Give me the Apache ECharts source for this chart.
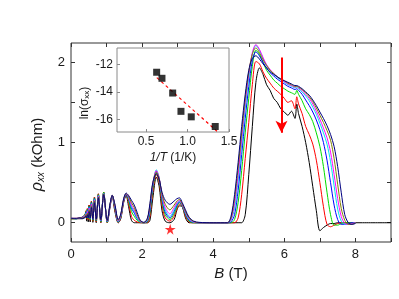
<!DOCTYPE html>
<html><head><meta charset="utf-8">
<script src="https://cdn.jsdelivr.net/npm/echarts@6/dist/echarts.min.js"></script>
<style>html,body{margin:0;padding:0;background:#fff}#c{width:399px;height:299px}</style>
</head><body><div id="c"></div>
<script>
// Magnetic field (T), shared grid for all curves
const fieldB = [
 0, 0.15, 0.25, 0.32, 0.37, 0.40, 0.42, 0.44, 0.46, 0.485, 0.51, 0.54, 0.575, 0.615, 0.66, 0.71, 0.77, 0.84, 0.92, 1.02, 1.10, 1.16, 1.23, 1.33,
 1.40, 1.48, 1.55, 1.62, 1.70, 1.78, 1.86, 1.95, 2.05, 2.15, 2.22, 2.30, 2.40, 2.48, 2.56, 2.65, 2.78, 2.90, 2.98, 3.05, 3.13, 3.22, 3.32, 3.45, 3.60, 4.00, 4.40,
 4.50, 4.60, 4.70, 4.80, 4.90, 5.00, 5.10, 5.20, 5.30, 5.40, 5.50, 5.60, 5.70, 5.80, 5.90, 6.00, 6.10, 6.20, 6.30, 6.35, 6.40, 6.50,
 6.60, 6.70, 6.80, 6.90, 7.00, 7.10, 7.20, 7.30, 7.40, 7.50, 7.60, 7.70, 7.80, 7.90, 8.00, 8.20, 9.00
];
// rho_xx (kOhm) for each temperature curve
const rhoBlack = [
 .05,.05,.05,.05,.06,.07,.13,.02,.17,.01,.22,.01,.27,.005,.32,0,.36,0,.38,0,.2,.34,.15,0,
 .05,.25,.34,.2,.03,0,0,0,0,0,.03,.3,.57,.45,.15,.02,0,.04,.16,.21,.2,.06,0,0,0,0,0,
 0,0,0,0,.1,.6,1.2,1.75,1.93,1.85,1.72,1.65,1.55,1.5,1.42,1.38,1.34,1.39,1.3,1.48,1.36,1.2,
 1.0,.75,.45,.15,-.1,-.06,-.03,-.01,-.01,0,0,0,0,0,0,0,0
];
const rhoRed = [
 .05,.05,.06,.07,.09,.11,.15,.05,.18,.04,.22,.03,.27,.02,.32,.01,.36,.005,.38,0,.21,.34,.17,0,
 .06,.26,.35,.25,.08,.03,.01,0,0,0,.08,.38,.6,.5,.22,.06,.02,.08,.18,.23,.2,.08,.01,0,0,0,0,
 0,0,.06,.35,.8,1.25,1.72,2.01,1.98,1.88,1.8,1.74,1.68,1.64,1.6,1.55,1.5,1.52,1.42,1.57,1.48,1.36,
 1.2,1.1,.98,.78,.5,.2,-.02,-.05,-.03,-.01,0,0,0,0,0,null,null
];
const rhoGreen = [
 .05,.05,.06,.07,.09,.11,.14,.06,.17,.05,.21,.04,.26,.03,.31,.02,.35,.01,.38,.005,.22,.34,.19,.005,
 .07,.27,.35,.28,.14,.08,.03,.005,0,.01,.12,.42,.62,.53,.27,.1,.04,.11,.2,.25,.2,.1,.02,0,0,0,0,
 0,.04,.25,.65,1.12,1.55,1.95,2.15,2.1,2.0,1.9,1.84,1.78,1.74,1.7,1.67,1.64,1.62,1.6,1.65,1.6,1.52,
 1.42,1.35,1.26,1.12,.95,.7,.38,.1,-.03,-.03,-.01,0,0,0,0,null,null
];
const rhoBlue = [
 .055,.05,.06,.07,.085,.10,.13,.07,.16,.06,.20,.05,.25,.04,.30,.03,.34,.02,.37,.01,.22,.34,.20,.01,
 .08,.27,.35,.3,.18,.12,.05,.01,0,.02,.15,.45,.64,.55,.3,.13,.06,.14,.22,.26,.21,.11,.03,.005,0,0,0,
 .01,.1,.4,.85,1.3,1.7,2.02,2.13,2.08,2.0,1.93,1.87,1.83,1.79,1.76,1.73,1.7,1.68,1.66,1.67,1.65,1.6,
 1.53,1.46,1.38,1.28,1.16,1.0,.78,.5,.22,.04,-.02,-.02,-.01,0,0,null,null
];
const rhoCyan = [
 .055,.05,.06,.065,.08,.095,.12,.075,.15,.065,.19,.055,.24,.045,.29,.035,.34,.025,.37,.015,.23,.34,.21,.015,
 .08,.28,.36,.31,.2,.14,.06,.01,0,.03,.18,.47,.66,.56,.32,.16,.08,.16,.24,.27,.22,.12,.04,.005,0,0,0,
 .03,.18,.52,.97,1.42,1.8,2.1,2.21,2.15,2.05,1.96,1.9,1.85,1.81,1.78,1.75,1.72,1.7,1.68,1.69,1.67,1.63,
 1.58,1.52,1.44,1.35,1.24,1.12,.98,.76,.46,.17,.02,-.02,-.02,-.01,0,null,null
];
const rhoMagenta = [
 .055,.055,.06,.065,.08,.09,.11,.075,.14,.07,.18,.06,.23,.05,.28,.04,.33,.03,.36,.02,.23,.34,.22,.02,
 .09,.28,.36,.32,.22,.16,.08,.015,0,.04,.2,.48,.65,.56,.34,.19,.11,.19,.25,.28,.22,.13,.05,.01,0,0,0,
 .04,.24,.6,1.05,1.5,1.85,2.12,2.22,2.16,2.06,1.97,1.91,1.86,1.82,1.79,1.76,1.73,1.71,1.69,1.7,1.68,1.65,
 1.6,1.55,1.48,1.39,1.29,1.18,1.06,.88,.6,.3,.08,-.01,-.02,-.01,0,null,null
];
const rhoOlive = [
 .055,.055,.06,.06,.07,.08,.10,.07,.12,.065,.16,.06,.21,.05,.27,.04,.32,.035,.36,.025,.24,.34,.23,.03,
 .10,.29,.36,.33,.25,.19,.1,.02,0,.05,.22,.49,.63,.55,.36,.23,.16,.22,.27,.29,.23,.14,.06,.015,0,0,0,
 .06,.3,.68,1.12,1.55,1.88,2.1,2.18,2.12,2.03,1.96,1.9,1.86,1.82,1.79,1.77,1.74,1.72,1.7,1.7,1.69,1.66,
 1.62,1.57,1.51,1.43,1.34,1.25,1.15,1.03,.8,.48,.18,.03,-.02,-.02,0,null,null
];
const rhoNavy = [
 .055,.055,.06,.055,.06,.065,.08,.06,.10,.06,.14,.06,.19,.05,.25,.045,.31,.04,.35,.03,.24,.34,.24,.04,
 .11,.30,.37,.34,.28,.22,.13,.03,.005,.06,.24,.5,.61,.54,.38,.28,.23,.27,.3,.31,.25,.16,.07,.02,.005,0,0,
 .08,.35,.75,1.2,1.6,1.9,2.05,2.08,2.04,1.98,1.93,1.88,1.85,1.82,1.79,1.77,1.75,1.73,1.71,1.71,1.7,1.67,
 1.63,1.59,1.53,1.46,1.38,1.3,1.21,1.1,.95,.7,.38,.1,0,-.02,-.01,null,null
];
// Inset: ln(sigma_xx) vs 1/T
const invT = [0.628, 0.692, 0.821, 0.921, 1.045, 1.334];
const lnSigma = [-12.56, -13.0, -14.07, -15.4, -15.8, -16.5];
const fitInvT = [0.63, 1.355];
const fitLnSigma = [-12.95, -16.85];
// Annotations (data coordinates)
const starPoint = [2.79, -0.08];
const arrowFrom = [5.92, 2.06];
const arrowTo = [5.92, 1.12];
// Tick labels
const mainXLabels = [0, 2, 4, 6, 8];
const mainXTicks = [0,1,2,3,4,5,6,7,8,9];
const mainYLabels = [0, 1, 2];
const mainYTicks = [0, 0.5, 1, 1.5, 2];
const insetXLabels = [0.5, 1.0, 1.5];
const insetYLabels = [-12, -14, -16];

const curves = [rhoBlack, rhoRed, rhoGreen, rhoBlue, rhoCyan, rhoMagenta, rhoOlive, rhoNavy];
const colors = ['#000000','#ff0000','#00dd00','#0000ff','#00e5ee','#ff00ff','#808000','#000080'];
const FONT = '"Liberation Sans", Arial, sans-serif';
const TXT = '#1a1a1a';

const series = curves.map((arr, k) => ({
  type: 'line', xAxisIndex: 0, yAxisIndex: 0,
  data: fieldB.map((b, i) => [b, arr[i]]).filter(p => p[1] !== null),
  showSymbol: false, symbol: 'none', smooth: 0.3, clip: true,
  lineStyle: { width: 1, color: colors[k] }, itemStyle: { color: colors[k] },
  z: 2, silent: true
}));

series.push({
  type: 'scatter', xAxisIndex: 0, yAxisIndex: 0,
  data: [starPoint],
  symbol: 'path://M50,0 L61,35 L98,35 L68,57 L79,91 L50,70 L21,91 L32,57 L2,35 L39,35 Z',
  symbolSize: 11, itemStyle: { color: '#ff0000' }, z: 5,
  markLine: {
    silent: true, symbol: ['none', 'arrow'], symbolSize: [9, 12],
    label: { show: false },
    lineStyle: { color: '#ff0000', width: 2, type: 'solid' },
    data: [[{ coord: arrowFrom }, { coord: arrowTo }]]
  }
});

series.push({
  type: 'line', xAxisIndex: 2, yAxisIndex: 2,
  data: fitInvT.map((x, i) => [x, fitLnSigma[i]]),
  showSymbol: false, symbol: 'none', clip: true,
  lineStyle: { color: '#ff0000', width: 1.2, type: [3, 3] }, z: 6
});
series.push({
  type: 'scatter', xAxisIndex: 2, yAxisIndex: 2,
  data: invT.map((x, i) => [x, lnSigma[i]]),
  symbol: 'rect', symbolSize: 7, itemStyle: { color: '#000' }, z: 7
});

const tickStyle = { inside: true, length: 4, lineStyle: { color: '#333', width: 1 } };
const hiddenLine = { show: false, onZero: false };

const option = {
  animation: false,
  backgroundColor: '#fff',
  grid: [
    { left: 71, right: 8, top: 43, bottom: 57, show: true, borderColor: '#333', borderWidth: 1, backgroundColor: 'transparent' },
    { left: 117, top: 48, width: 112, height: 84, show: true, borderColor: '#8a8a8a', borderWidth: 1, backgroundColor: '#fff', z: 3 }
  ],
  xAxis: [
    { gridIndex: 0, type: 'value', min: 0, max: 9, position: 'bottom',
      axisLine: hiddenLine, splitLine: { show: false },
      axisTick: Object.assign({ customValues: mainXTicks }, tickStyle),
      axisLabel: { customValues: mainXLabels, fontSize: 13, color: TXT, margin: 6, fontFamily: FONT },
      name: '{i|B} (T)', nameLocation: 'middle', nameGap: 24,
      nameTextStyle: { fontSize: 15, color: TXT, fontFamily: FONT,
        rich: { i: { fontStyle: 'italic', fontSize: 15, color: TXT, fontFamily: FONT } } } },
    { gridIndex: 0, type: 'value', min: 0, max: 9, position: 'top',
      axisLine: hiddenLine, splitLine: { show: false },
      axisTick: Object.assign({ customValues: mainXTicks }, tickStyle),
      axisLabel: { show: false } },
    { gridIndex: 1, type: 'value', min: 0.15, max: 1.5, position: 'bottom',
      axisLine: hiddenLine, splitLine: { show: false },
      axisTick: { customValues: insetXLabels, inside: true, length: 3, lineStyle: { color: '#8a8a8a' } },
      axisLabel: { customValues: insetXLabels, formatter: v => v.toFixed(1), fontSize: 12, color: TXT, margin: 4, fontFamily: FONT },
      name: '{i|1/T} (1/K)', nameLocation: 'middle', nameGap: 20,
      nameTextStyle: { fontSize: 12, color: TXT, fontFamily: FONT,
        rich: { i: { fontStyle: 'italic', fontSize: 12, color: TXT, fontFamily: FONT } } },
      z: 8 }
  ],
  yAxis: [
    { gridIndex: 0, type: 'value', min: -0.24, max: 2.24, position: 'left',
      axisLine: hiddenLine, splitLine: { show: false },
      axisTick: Object.assign({ customValues: mainYTicks }, tickStyle),
      axisLabel: { customValues: mainYLabels, fontSize: 13, color: TXT, margin: 6, fontFamily: FONT },
      name: '{i|ρ}{s|xx} (kOhm){sp| }', nameLocation: 'middle', nameGap: 25,
      nameTextStyle: { fontSize: 15, color: TXT, fontFamily: FONT,
        rich: { i: { fontStyle: 'italic', fontSize: 16, color: TXT, fontFamily: FONT },
                s: { fontStyle: 'italic', fontSize: 10, color: TXT, fontFamily: FONT, verticalAlign: 'bottom', padding: [6, 0, 0, 0] },
                sp: { width: 24, fontSize: 15 } } } },
    { gridIndex: 0, type: 'value', min: -0.24, max: 2.24, position: 'right',
      axisLine: hiddenLine, splitLine: { show: false },
      axisTick: Object.assign({ customValues: mainYTicks }, tickStyle),
      axisLabel: { show: false } },
    { gridIndex: 1, type: 'value', min: -16.9, max: -10.8, position: 'left',
      axisLine: hiddenLine, splitLine: { show: false },
      axisTick: { customValues: insetYLabels, inside: true, length: 3, lineStyle: { color: '#8a8a8a' } },
      axisLabel: { customValues: insetYLabels, fontSize: 12, color: TXT, margin: 4, fontFamily: FONT },
      name: '{n|ln(σ}{s|xx}{n|)}{sp| }', nameLocation: 'middle', nameGap: 26,
      nameTextStyle: { fontSize: 12, color: TXT, fontFamily: FONT,
        rich: { n: { fontSize: 12, color: TXT, fontFamily: FONT },
                s: { fontSize: 8, color: TXT, fontFamily: FONT, padding: [5, 0, 0, 0] },
                sp: { width: 26, fontSize: 12 } } },
      z: 8 }
  ],
  series: series
};

const chart = echarts.init(document.getElementById('c'), null, { renderer: 'canvas' });
chart.setOption(option);
</script></body></html>
